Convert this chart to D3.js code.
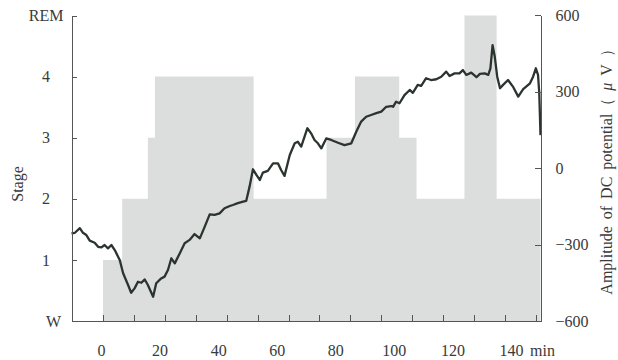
<!DOCTYPE html>
<html>
<head>
<meta charset="utf-8">
<script src="https://cdn.jsdelivr.net/npm/d3@7/dist/d3.min.js"></script>
<style>
  html, body { margin: 0; padding: 0; background: #fff; }
  svg { display: block; }
  .axis path, .axis line { stroke: #555; stroke-width: 1; shape-rendering: crispEdges; }
  .axis text { fill: #3a3a3a; font-family: "Liberation Serif", "Times New Roman", serif; font-size: 16px; }
  .title { fill: #3a3a3a; font-family: "Liberation Serif", "Times New Roman", serif; }
</style>
</head>
<body>
<svg id="chart" width="618" height="360"></svg>
<script>
// Sleep hypnogram (stage changes, minutes from lights out)
const stageStart = [0, 6.2, 14.5, 16.8, 48.7, 72.3, 81.5, 95.8, 101.4, 116.9, 127.3];
const stageLevel = [1, 2, 3, 4, 2, 3, 4, 3, 2, 5, 2];
const recordEnd = 141.5;
const stageLabels = ["W", "1", "2", "3", "4", "REM"];

// DC potential trace (minutes, µV)
const dcTime = [-10.2, -9.1, -7.5, -6.5, -5.4, -4.3, -2.7, -1.6, -0.5, 0.5, 1.6, 2.7, 3.8, 5.4, 6.5, 8.1, 9.1,
  10.2, 11.3, 12.4, 13.5, 14.5, 16.2, 17.2, 18.8, 19.9, 21.0, 22.1, 23.2, 24.8, 26.4, 28.0, 29.6, 31.3,
  32.9, 34.5, 36.1, 37.7, 39.3, 41.0, 42.0, 43.6, 45.3, 46.3, 47.4, 48.5, 49.6, 50.7, 51.7, 53.3, 55.0,
  56.6, 57.6, 58.7, 60.4, 62.0, 63.0, 64.1, 66.1, 67.3, 68.4, 69.5, 70.6, 72.2, 73.8, 76.0, 78.1, 80.3,
  81.9, 83.5, 85.1, 86.7, 88.4, 90.0, 91.6, 93.2, 93.8, 94.8, 95.9, 97.5, 99.2, 100.2, 101.8, 102.9,
  104.5, 106.1, 107.8, 109.4, 111.0, 112.1, 113.7, 115.3, 116.4, 117.5, 119.1, 120.8, 121.9, 123.5,
  124.6, 125.3, 126.0, 126.7, 127.5, 128.4, 129.4, 131.0, 132.7, 134.3, 135.9, 138.1, 139.1, 140.0,
  140.7, 141.1, 141.5];
const dcValue = [-256, -254, -236, -254, -263, -285, -293, -309, -311, -302, -315, -302, -322, -361, -413, -459, -489,
  -472, -446, -450, -437, -459, -505, -452, -433, -426, -400, -354, -374, -335, -295, -282, -259, -276,
  -230, -182, -184, -178, -158, -149, -145, -138, -132, -129, -73, -5, -27, -47, -18, -11, 18,
  18, -8, -31, 51, 97, 103, 84, 156, 136, 110, 97, 77, 116, 110, 99, 90, 97,
  142, 182, 201, 208, 215, 221, 240, 243, 240, 260, 254, 286, 306, 295, 326, 322,
  352, 345, 348, 358, 378, 361, 371, 371, 384, 365, 374, 356, 369, 371,
  365, 391, 482, 437, 358, 313, 326, 345, 317, 280, 309, 332, 358, 391,
  365, 293, 129];

const timeTicks = [0, 10, 20, 30, 40, 50, 60, 70, 80, 90, 100, 110, 120, 130, 140];
const timeLabels = [0, 20, 40, 60, 80, 100, 120, 140];
const dcTicks = [-600, -300, 0, 300, 600];

const svg = d3.select("#chart");
const plotL = 71.5, plotR = 540.5, plotT = 15, plotB = 321;

const x = d3.scaleLinear().domain([-10.2, recordEnd]).range([plotL, plotR]);
// tick labels are set slightly tighter than the tick marks
const xLabel = d3.scaleLinear().domain([0, 140]).range([101, 511]);
const yStage = d3.scaleLinear().domain([0, 5]).range([plotB, plotT + 0.5]);
const yDC = d3.scaleLinear().domain([-600, 600]).range([plotB, plotT]);

// hypnogram as stepped grey blocks
const steps = stageStart.map((t, i) => ({ t, s: stageLevel[i] }));
steps.push({ t: recordEnd, s: stageLevel[stageLevel.length - 1] });
const stepArea = d3.area()
  .curve(d3.curveStepAfter)
  .x(d => x(d.t))
  .y0(yStage(0))
  .y1(d => yStage(d.s));
svg.append("path")
  .datum(steps)
  .attr("d", stepArea)
  .attr("fill", "#dbdedd");

// DC potential line
const dc = dcTime.map((t, i) => ({ t, v: dcValue[i] }));
svg.append("path")
  .datum(dc)
  .attr("d", d3.line().x(d => x(d.t)).y(d => yDC(d.v)))
  .attr("fill", "none")
  .attr("stroke", "#2b342e")
  .attr("stroke-width", 2.3)
  .attr("stroke-linejoin", "round");

// left axis: sleep stage (words sit closer to the axis than the digits)
const gL = svg.append("g").attr("class", "axis")
  .attr("transform", `translate(${plotL},0)`)
  .call(d3.axisLeft(yStage).tickValues([0, 1, 2, 3, 4, 5])
    .tickFormat(d => stageLabels[d]).tickSize(-5).tickSizeOuter(0));
gL.selectAll(".tick text")
  .style("text-anchor", "end")
  .attr("x", d => d === 5 ? -8 : d === 0 ? -10.5 : -21.5);

// right axis: DC amplitude
svg.append("g").attr("class", "axis")
  .attr("transform", `translate(${plotR},0)`)
  .call(d3.axisRight(yDC).tickValues(dcTicks).tickSize(-6).tickSizeOuter(0).tickPadding(15));

// bottom axis: tick marks
svg.append("g").attr("class", "axis")
  .attr("transform", `translate(0,${plotB})`)
  .call(d3.axisBottom(x).tickValues(timeTicks).tickSize(-6).tickSizeOuter(0).tickFormat(""));

// bottom axis: time labels
const gB = svg.append("g").attr("class", "axis")
  .attr("transform", `translate(0,${plotB})`)
  .call(d3.axisBottom(xLabel).tickValues(timeLabels).tickSize(0).tickPadding(24));
gB.select(".domain").remove();

svg.append("text").attr("class", "title")
  .attr("x", 530).attr("y", plotB + 24).attr("dy", "0.71em")
  .attr("font-size", 16)
  .text("min");

// axis titles
svg.append("text").attr("class", "title")
  .attr("transform", "translate(23,184) rotate(-90)")
  .attr("text-anchor", "middle")
  .attr("font-size", 16)
  .text("Stage");

const rt = svg.append("text").attr("class", "title")
  .attr("transform", "translate(612,168) rotate(-90)")
  .attr("text-anchor", "middle")
  .attr("font-size", 16)
  .attr("word-spacing", "3px");
rt.append("tspan").text("Amplitude of DC potential（ ");
rt.append("tspan").attr("font-style", "italic").text("μ");
rt.append("tspan").text(" V ）");
</script>
</body>
</html>
